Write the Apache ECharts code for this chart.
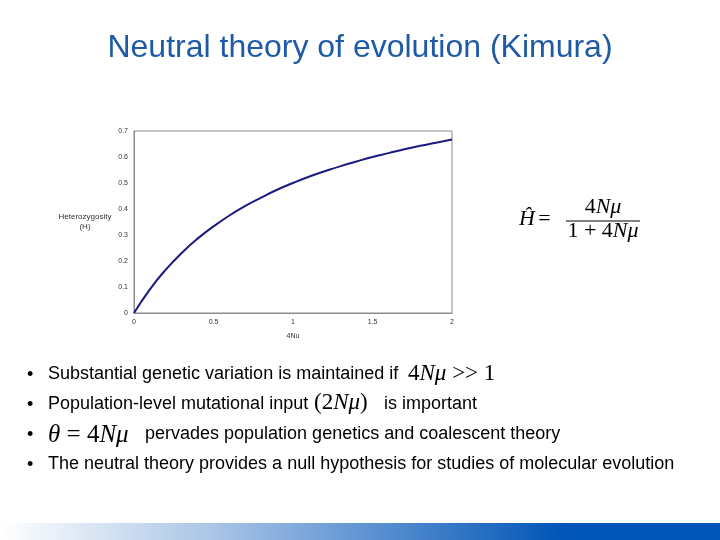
<!DOCTYPE html>
<html>
<head>
<meta charset="utf-8">
<script src="https://cdn.jsdelivr.net/npm/echarts@6/dist/echarts.min.js"></script>
<style>
  html, body { margin: 0; padding: 0; background: #fff; }
  #main { width: 720px; height: 540px; }
</style>
</head>
<body>
<div id="main"></div>
<script>
// 4Nu 取值 (x 轴)
var xValues = [0, 0.1, 0.2, 0.3, 0.4, 0.5, 0.6, 0.7, 0.8, 0.9, 1.0,
               1.1, 1.2, 1.3, 1.4, 1.5, 1.6, 1.7, 1.8, 1.9, 2.0];
// 杂合度 H
var hValues = [0, 0.091, 0.167, 0.231, 0.286, 0.333, 0.375, 0.412, 0.444, 0.474, 0.5,
               0.524, 0.545, 0.565, 0.583, 0.6, 0.615, 0.63, 0.643, 0.655, 0.667];
var xTicks = [0, 0.5, 1, 1.5, 2];
var yTicks = [0, 0.1, 0.2, 0.3, 0.4, 0.5, 0.6, 0.7];

var chart = echarts.init(document.getElementById('main'), null, { renderer: 'canvas' });

var sans = '"Liberation Sans", Arial, sans-serif';
var serif = '"Liberation Serif", "Times New Roman", serif';

// 数学公式用的富文本样式
var mathRich = {
  r: { fontFamily: serif, fontSize: 23, color: '#000' },
  i: { fontFamily: serif, fontSize: 23, fontStyle: 'italic', color: '#000' },
  R: { fontFamily: serif, fontSize: 25, color: '#000' },
  I: { fontFamily: serif, fontSize: 25, fontStyle: 'italic', color: '#000' },
  fr: { fontFamily: serif, fontSize: 22, color: '#000' },
  fi: { fontFamily: serif, fontSize: 22, fontStyle: 'italic', color: '#000' }
};

// 普通文字, (x, y) 为左侧垂直中点
function bulletText(x, y, str) {
  return {
    type: 'text', x: x, y: y,
    style: { text: str, font: '18px ' + sans, fill: '#000', verticalAlign: 'middle' }
  };
}
// 公式文字
function mathText(x, y, str, align) {
  return {
    type: 'text', x: x, y: y,
    style: { text: str, rich: mathRich, fill: '#000', verticalAlign: 'middle', align: align || 'left' }
  };
}

var pairs = xValues.map(function (x, i) { return [x, hValues[i]]; });

var options = {
  animation: false,
  backgroundColor: '#fff',
  grid: { left: 134, right: 268, top: 131, bottom: 227, show: true, borderColor: '#8c8c8c', borderWidth: 1 },
  xAxis: {
    type: 'value', min: 0, max: 2, interval: 0.5,
    name: '4Nu', nameLocation: 'middle', nameGap: 20,
    nameTextStyle: { fontFamily: sans, fontSize: 7, color: '#333' },
    axisLine: { show: true, lineStyle: { color: '#8c8c8c' } },
    axisTick: { show: false },
    splitLine: { show: false },
    axisLabel: {
      fontFamily: sans, fontSize: 7, color: '#333', margin: 6,
      formatter: function (v) { return xTicks.indexOf(v) >= 0 ? String(v) : ''; }
    }
  },
  yAxis: {
    type: 'value', min: 0, max: 0.7, interval: 0.1,
    axisLine: { show: true, lineStyle: { color: '#8c8c8c' } },
    axisTick: { show: false },
    splitLine: { show: false },
    axisLabel: {
      fontFamily: sans, fontSize: 7, color: '#333', margin: 6,
      formatter: function (v) {
        var r = Math.round(v * 10) / 10;
        return yTicks.indexOf(r) >= 0 ? String(r) : '';
      }
    }
  },
  series: [{
    type: 'line',
    data: pairs,
    smooth: true,
    showSymbol: false,
    lineStyle: { color: '#1a1a80', width: 2 }
  }],
  graphic: [
    // 标题
    {
      type: 'text', x: 360, y: 48,
      style: { text: 'Neutral theory of evolution (Kimura)', font: '32px ' + sans, fill: '#1f5aa6', align: 'center', verticalAlign: 'middle' }
    },
    // y 轴名称
    {
      type: 'text', x: 85, y: 222,
      style: { text: 'Heterozygosity\n(H)', font: '8px ' + sans, fill: '#333', align: 'center', verticalAlign: 'middle', lineHeight: 10 }
    },
    // 公式 H = 4Nμ / (1 + 4Nμ)
    mathText(519, 219, '{fi|Ĥ} {fr|=}'),
    mathText(603, 207, '{fr|4}{fi|Nμ}', 'center'),
    { type: 'line', shape: { x1: 566, y1: 221, x2: 640, y2: 221 }, style: { stroke: '#000', lineWidth: 1 } },
    mathText(603, 231, '{fr|1 + 4}{fi|Nμ}', 'center'),
    // 要点
    bulletText(27, 375, '•'),
    bulletText(48, 374, 'Substantial genetic variation is maintained if'),
    mathText(408, 374, '{r|4}{i|Nμ}{r| >> 1}'),
    bulletText(27, 405, '•'),
    bulletText(48, 404, 'Population-level mutational input'),
    mathText(314, 403, '{r|(2}{i|Nμ}{r|)}'),
    bulletText(384, 404, 'is important'),
    bulletText(27, 435, '•'),
    mathText(48, 435, '{I|θ}{R| = 4}{I|Nμ}'),
    bulletText(145, 434, 'pervades population genetics and coalescent theory'),
    bulletText(27, 465, '•'),
    bulletText(48, 464, 'The neutral theory provides a null hypothesis for studies of molecular evolution'),
    // 底部渐变条
    {
      type: 'rect', shape: { x: 0, y: 523, width: 720, height: 17 },
      style: {
        fill: new echarts.graphic.LinearGradient(0, 0, 1, 0, [
          { offset: 0, color: '#ffffff' },
          { offset: 0.3, color: '#a8c4e6' },
          { offset: 0.78, color: '#0055b8' },
          { offset: 1, color: '#0055b8' }
        ])
      }
    }
  ]
};

chart.setOption(options);
</script>
</body>
</html>
